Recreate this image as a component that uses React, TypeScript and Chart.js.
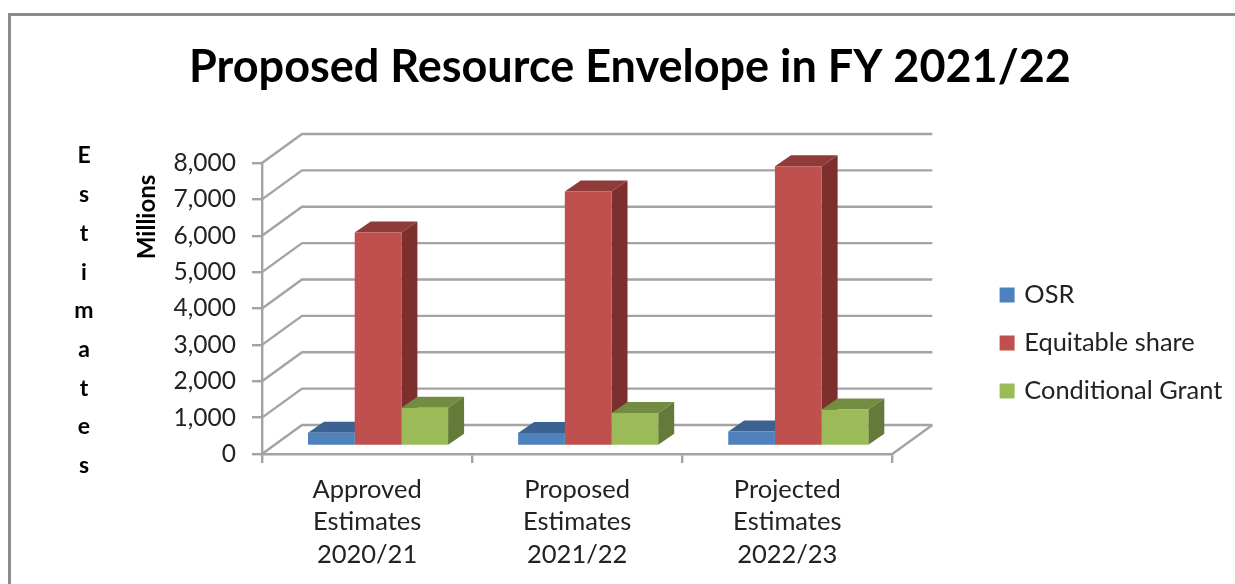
import React, { useEffect, useRef } from "react";
import { Chart, registerables } from "chart.js";

Chart.register(...registerables);

const categories = [
  ["Approved", "Estimates", "2020/21"],
  ["Proposed", "Estimates", "2021/22"],
  ["Projected", "Estimates", "2022/23"],
];
const osr = [364, 356, 397];
const equitableShare = [5870, 7000, 7690];
const conditionalGrant = [1049, 904, 1005];
const titleText = "Proposed Resource Envelope in FY 2021/22";
const sideTitle = ["E", "s", "t", "i", "m", "a", "t", "e", "s"];

const FONT = "Lato, Carlito, 'Open Sans', sans-serif";
const GRID = "#a3a3a3";
const WALL = { dx: 40, dy: -29 };
const BAR_SHIFT = { dx: 11, dy: -8 };
const BAR_DEPTH = { dx: 16, dy: -11 };
const LEGEND_LEFT = 980;
const LEGEND_SHIFT_Y = 51;
const faces = [
  { front: "#4F81BD", top: "#3C6291", side: "#355A86" },
  { front: "#C0504D", top: "#8F3B39", side: "#7D2F2E" },
  { front: "#9BBB59", top: "#728C42", side: "#637A38" },
];

const poly = (ctx: CanvasRenderingContext2D, pts: number[][], fill: string) => {
  ctx.beginPath();
  pts.forEach(([x, y], i) => (i ? ctx.lineTo(x, y) : ctx.moveTo(x, y)));
  ctx.closePath();
  ctx.fillStyle = fill;
  ctx.fill();
};

const box3d = {
  id: "box3d",
  afterLayout(chart: any) {
    const legend = chart.legend;
    legend.left = LEGEND_LEFT;
    legend.right = chart.width;
    legend.width = legend.right - legend.left;
    legend.top += LEGEND_SHIFT_Y;
    legend.bottom += LEGEND_SHIFT_Y;
  },
  beforeDatasetsDraw(chart: any) {
    const { ctx, chartArea, scales } = chart;
    const { left, right, bottom } = chartArea;
    ctx.save();
    ctx.strokeStyle = GRID;
    ctx.lineWidth = 2.4;
    for (const tick of scales.y.ticks) {
      const y = scales.y.getPixelForValue(tick.value);
      ctx.beginPath();
      ctx.moveTo(left, y);
      ctx.lineTo(left + WALL.dx, y + WALL.dy);
      ctx.lineTo(right + WALL.dx, y + WALL.dy);
      ctx.stroke();
    }
    ctx.beginPath();
    ctx.moveTo(right, bottom);
    ctx.lineTo(right + WALL.dx, bottom + WALL.dy);
    ctx.stroke();
    // Top and side faces go down first, series by series, so that each
    // series hides the one to its left; the library then paints the fronts.
    ctx.translate(BAR_SHIFT.dx, BAR_SHIFT.dy);
    chart.data.datasets.forEach((_: any, index: number) => {
      const c = faces[index];
      for (const bar of chart.getDatasetMeta(index).data) {
        const half = bar.width / 2;
        const l = bar.x - half;
        const r = bar.x + half;
        const t = bar.y;
        const b = bar.base;
        const { dx, dy } = BAR_DEPTH;
        poly(ctx, [[l, t], [r, t], [r + dx, t + dy], [l + dx, t + dy]], c.top);
        poly(ctx, [[r, t], [r + dx, t + dy], [r + dx, b + dy], [r, b]], c.side);
      }
    });
    ctx.restore();
  },
  beforeDatasetDraw(chart: any) {
    chart.ctx.save();
    chart.ctx.translate(BAR_SHIFT.dx, BAR_SHIFT.dy);
  },
  afterDatasetDraw(chart: any) {
    chart.ctx.restore();
  },
  afterDraw(chart: any) {
    const { ctx } = chart;
    ctx.save();
    ctx.font = `bold 23px ${FONT}`;
    ctx.fillStyle = "#000";
    ctx.textAlign = "center";
    ctx.textBaseline = "middle";
    sideTitle.forEach((ch, i) => ctx.fillText(ch, 84, 156 + i * 38.7));
    ctx.restore();
  },
};

export default function App() {
  const ref = useRef<HTMLCanvasElement>(null);
  useEffect(() => {
    const chart = new Chart(ref.current!, {
      type: "bar",
      data: {
        labels: categories,
        datasets: [
          { label: "OSR", data: osr, backgroundColor: faces[0].front },
          { label: "Equitable share", data: equitableShare, backgroundColor: faces[1].front },
          { label: "Conditional Grant", data: conditionalGrant, backgroundColor: faces[2].front },
        ].map((d) => ({ ...d, clip: false as any, categoryPercentage: 2 / 3, barPercentage: 1, borderWidth: 0 })),
      },
      options: {
        responsive: false,
        animation: false,
        layout: { padding: { left: 25, top: 0, right: 0, bottom: 0 } },
        plugins: {
          tooltip: { enabled: false },
          title: {
            display: true,
            text: titleText,
            color: "#000",
            font: { family: FONT, size: 45, weight: "bold" },
            padding: { top: 40, bottom: 69 },
          },
          legend: {
            position: "right",
            labels: {
              color: "#222",
              font: { family: FONT, size: 25.4 },
              boxWidth: 9,
              boxHeight: 9,
              padding: 22.6,
              generateLabels: (chart: any) =>
                Chart.defaults.plugins.legend.labels.generateLabels(chart).map((item: any) => ({
                  ...item,
                  strokeStyle: item.fillStyle,
                  lineWidth: 6,
                })),
            },
          },
        },
        scales: {
          x: {
            grid: { drawOnChartArea: false, color: GRID, lineWidth: 2.4, tickLength: 9 },
            border: { color: GRID, width: 2.4 },
            ticks: { color: "#222", font: { family: FONT, size: 25.5, lineHeight: 1.28 }, maxRotation: 0, padding: 10 },
            afterFit: (s: any) => { s.height = 130; },
          },
          y: {
            min: 0,
            max: 8000,
            grid: { drawOnChartArea: false, color: GRID, lineWidth: 2.4, tickLength: 10 },
            border: { color: GRID, width: 2.4 },
            ticks: { stepSize: 1000, color: "#222", font: { family: FONT, size: 24.5 }, padding: 16 },
            title: {
              display: true,
              text: "Millions\u00a0\u00a0",
              align: "end",
              color: "#000",
              font: { family: FONT, size: 24, weight: "bold" },
              padding: { top: 108, bottom: 0 },
            },
            afterFit: (s: any) => { s.width = 237; },
          },
          gap: {
            position: "right",
            ticks: { display: false },
            grid: { display: false },
            border: { display: false },
            afterFit: (s: any) => { s.width = 141; },
          },
        },
      } as any,
      plugins: [box3d],
    });
    return () => chart.destroy();
  }, []);
  return (
    <div style={{ position: "fixed", left: 0, top: 0, width: 1235, height: 584, background: "#fff", overflow: "hidden" }}>
      <div style={{ position: "absolute", left: 8, top: 13, right: -10, bottom: -10, border: "3px solid #8c8c8c" }} />
      <canvas ref={ref} width={1235} height={584} style={{ position: "absolute", left: 0, top: 0 }} />
    </div>
  );
}
